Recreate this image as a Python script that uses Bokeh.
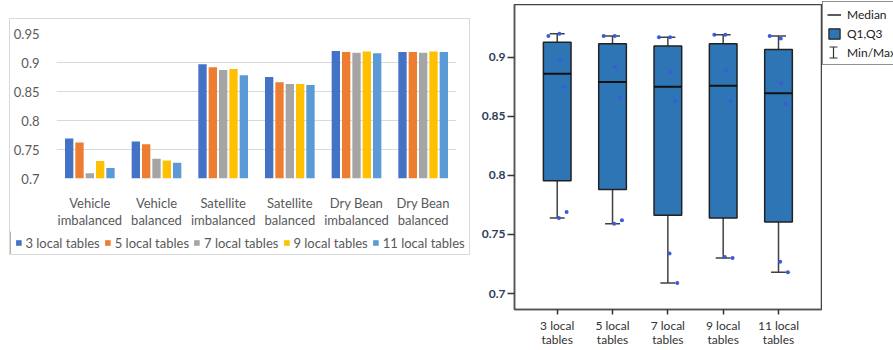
import numpy as np
from bokeh.plotting import figure
from bokeh.models import (ColumnDataSource, Legend, LegendItem, FixedTicker,
                          CustomJSTickFormatter, Range1d)
from bokeh.layouts import row, column
from bokeh.transform import dodge
from bokeh.embed import file_html
from bokeh.resources import INLINE

# ---------------- data ----------------
datasets = ["Vehicle\nimbalanced", "Vehicle\nbalanced", "Satellite\nimbalanced",
            "Satellite\nbalanced", "Dry Bean\nimbalanced", "Dry Bean\nbalanced"]
series_names = ["3 local tables", "5 local tables", "7 local tables",
                "9 local tables", "11 local tables"]
acc_3 = [0.769, 0.764, 0.897, 0.875, 0.920, 0.918]
acc_5 = [0.762, 0.759, 0.892, 0.866, 0.918, 0.918]
acc_7 = [0.709, 0.734, 0.887, 0.863, 0.917, 0.917]
acc_9 = [0.730, 0.731, 0.889, 0.863, 0.919, 0.919]
acc_11 = [0.718, 0.727, 0.878, 0.861, 0.916, 0.918]
box_labels = ["3 local\ntables", "5 local\ntables", "7 local\ntables",
              "9 local\ntables", "11 local\ntables"]
bar_y_ticks = [0.7, 0.75, 0.8, 0.85, 0.9, 0.95]
box_y_ticks = [0.7, 0.75, 0.8, 0.85, 0.9]
box_legend = ["Median", "Q1,Q3", "Min/Max"]
# horizontal spread of the points in the box plot, one per dataset
point_jitter = [0.17, 0.03, 0.05, 0.13, 0.04, -0.16]

series = [acc_3, acc_5, acc_7, acc_9, acc_11]
bar_colors = ["#4472C4", "#ED7D31", "#A5A5A5", "#FFC000", "#5B9BD5"]
FONT = "Lato"
fmt = CustomJSTickFormatter(code="return String(parseFloat(tick.toFixed(2)));")
BOX_FILL = "#2E75B6"
EDGE = "#222222"


def no_align(f):
    if "frame_align" in f.properties():
        f.frame_align = False
    return f


# ---------------- left: grouped bar chart ----------------
p1 = figure(width=459, height=212, x_range=Range1d(-0.5, 5.5), y_range=Range1d(0.7, 0.95),
            min_border_left=45, min_border_right=13, min_border_top=14, min_border_bottom=47,
            output_backend="svg", toolbar_location=None)
no_align(p1)
p1.outline_line_color = None
p1.xgrid.grid_line_color = None
p1.ygrid.grid_line_color = "#d9d9d9"
p1.ygrid.ticker = FixedTicker(ticks=bar_y_ticks)

src1 = ColumnDataSource(dict(x=list(range(len(datasets))),
                             s0=acc_3, s1=acc_5, s2=acc_7, s3=acc_9, s4=acc_11))
for j in range(len(series)):
    p1.vbar(x=dodge("x", (j - 2) * 0.155, range=None), top=f"s{j}", bottom=0,
            width=0.125, source=src1, fill_color=bar_colors[j], line_color=None)

p1.yaxis.ticker = FixedTicker(ticks=bar_y_ticks)
p1.yaxis.formatter = fmt
p1.xaxis.ticker = FixedTicker(ticks=list(range(len(datasets))))
p1.xaxis.major_label_overrides = {i: d for i, d in enumerate(datasets)}
for ax in (p1.xaxis[0], p1.yaxis[0]):
    ax.axis_line_color = None
    ax.major_tick_line_color = None
    ax.minor_tick_line_color = None
    ax.major_label_text_font = FONT
    ax.major_label_text_font_size = "13px"
    ax.major_label_text_color = "#595959"
p1.yaxis.major_label_standoff = 11
p1.xaxis.major_label_standoff = 10
p1.xaxis.major_label_text_line_height = 1.12

# legend strip of the bar chart (own small canvas, no axes)
lf1 = figure(width=459, height=23, x_range=Range1d(0, 1), y_range=Range1d(0, 1),
             x_axis_location=None, y_axis_location=None,
             min_border=0, output_backend="svg", toolbar_location=None)
no_align(lf1)
lf1.grid.grid_line_color = None
lf1.outline_line_color = None
lrs = [lf1.vbar(x=[-5], top=[1], bottom=0, width=0.1, fill_color=c, line_color=None)
       for c in bar_colors]
leg1 = Legend(items=[LegendItem(label=n, renderers=[r]) for n, r in zip(series_names, lrs)],
              orientation="horizontal", location=(0, 6),
              glyph_width=7, glyph_height=7, label_standoff=4, spacing=4,
              padding=0, margin=0, border_line_color=None, background_fill_alpha=0,
              label_text_font=FONT, label_text_font_size="13px",
              label_text_color="#595959", label_height=14)
leg1.location = "center"
lf1.add_layout(leg1)

left = column(p1, row(lf1), margin=(18, 0, 0, 9), spacing=0,
              styles={"border": "1px solid #d9d9d9"})

# ---------------- right: box plot ----------------
p2 = figure(width=352, height=346, x_range=Range1d(0.228, 5.777), y_range=Range1d(0.6865, 0.9447),
            min_border_left=44, min_border_right=1, min_border_top=0, min_border_bottom=37,
            margin=(4, 0, 0, 0), output_backend="svg", toolbar_location=None)
no_align(p2)
p2.grid.grid_line_color = None
p2.outline_line_color = "#444444"
p2.outline_line_width = 1.5

pos = list(range(1, len(series) + 1))
q1 = [float(np.percentile(s, 25)) for s in series]
med = [float(np.percentile(s, 50)) for s in series]
q3 = [float(np.percentile(s, 75)) for s in series]
mn = [min(s) for s in series]
mx = [max(s) for s in series]
src2 = ColumnDataSource(dict(x=pos, q1=q1, med=med, q3=q3, mn=mn, mx=mx,
                             cl=[x - 0.135 for x in pos], cr=[x + 0.135 for x in pos],
                             bl=[x - 0.25 for x in pos], br=[x + 0.25 for x in pos]))

wc = "#404040"
p2.segment(x0="x", y0="q3", x1="x", y1="mx", source=src2, line_color=wc, line_width=1.5)
p2.segment(x0="x", y0="q1", x1="x", y1="mn", source=src2, line_color=wc, line_width=1.5)
p2.segment(x0="cl", y0="mx", x1="cr", y1="mx", source=src2, line_color=wc, line_width=1.5)
p2.segment(x0="cl", y0="mn", x1="cr", y1="mn", source=src2, line_color=wc, line_width=1.5)
p2.vbar(x="x", top="q3", bottom="q1", width=0.5, source=src2,
        fill_color=BOX_FILL, line_color=EDGE, line_width=1.5)
p2.segment(x0="bl", y0="med", x1="br", y1="med", source=src2,
           line_color="#111111", line_width=2)

px, py = [], []
for i, s in enumerate(series):
    for k, v in enumerate(s):
        px.append(pos[i] + point_jitter[k])
        py.append(v)
p2.scatter(px, py, size=4, color="#3B5BDB", line_color=None)

p2.yaxis.ticker = FixedTicker(ticks=box_y_ticks)
p2.yaxis.formatter = fmt
p2.xaxis.ticker = FixedTicker(ticks=pos)
p2.xaxis.major_label_overrides = {p: l for p, l in zip(pos, box_labels)}
for ax in (p2.xaxis[0], p2.yaxis[0]):
    ax.axis_line_color = "#555555"
    ax.axis_line_width = 1.5
    ax.major_tick_line_color = "#333333"
    ax.major_tick_line_width = 1.5
    ax.major_tick_in = 0
    ax.minor_tick_line_color = None
    ax.major_label_text_font = FONT
p2.xaxis.major_tick_out = 5
p2.yaxis.major_tick_out = 7
p2.yaxis.major_label_standoff = 2
p2.yaxis.major_label_text_font_size = "12px"
p2.yaxis.major_label_text_font_style = "bold"
p2.yaxis.major_label_text_color = "#2F3D5A"
p2.xaxis.major_label_text_font_size = "12px"
p2.xaxis.major_label_text_color = "#333333"
p2.xaxis.major_label_standoff = 3
p2.xaxis.major_label_text_line_height = 0.98

# legend box of the box plot (own small canvas, no axes, pixel-like ranges, y downwards)
LW, LH = 71, 96
PAD, GW, GH, ROW, GAP = 4, 14, 13, 16, 3
lf2 = figure(width=LW, height=LH, x_range=Range1d(0, LW), y_range=Range1d(LH, 0),
             x_axis_location=None, y_axis_location=None,
             min_border=0, margin=(1, 0, 0, 0), output_backend="svg", toolbar_location=None)
no_align(lf2)
lf2.grid.grid_line_color = None
lf2.outline_line_color = None
r_med = lf2.segment(x0=[-5], y0=[-5], x1=[-4], y1=[-5], line_color="#333333", line_width=1.6)
r_box = lf2.vbar(x=[-5], top=[-4], bottom=-5, width=0.1, fill_color=BOX_FILL,
                 line_color=EDGE, line_width=1.2)
r_mm = lf2.scatter(x=[-5], y=[-5], marker="dash", size=1, line_alpha=0, fill_alpha=0)
# I-beam key for the Min/Max entry, in the third legend row's glyph box
cx = PAD + GW / 2
cy = PAD + 2 * (ROW + GAP) + ROW / 2 + 1
lf2.segment(x0=[cx, cx - 4, cx - 4], y0=[cy - 5.5, cy - 5.5, cy + 5.5],
            x1=[cx, cx + 4, cx + 4], y1=[cy + 5.5, cy - 5.5, cy + 5.5],
            line_color="#333333", line_width=1.2)
leg2 = Legend(items=[LegendItem(label=t, renderers=[r]) for t, r in zip(box_legend, [r_med, r_box, r_mm])],
              location="top_left", glyph_width=GW, glyph_height=GH,
              label_standoff=6, spacing=GAP, padding=PAD, margin=0,
              border_line_color=EDGE, border_line_width=1, background_fill_alpha=0,
              label_text_font=FONT, label_text_font_size="12px",
              label_text_color="#222222", label_height=ROW)
lf2.add_layout(leg2)

layout = row(left, p2, lf2, spacing=0)
open("out.html", "w").write(file_html(layout, INLINE))
